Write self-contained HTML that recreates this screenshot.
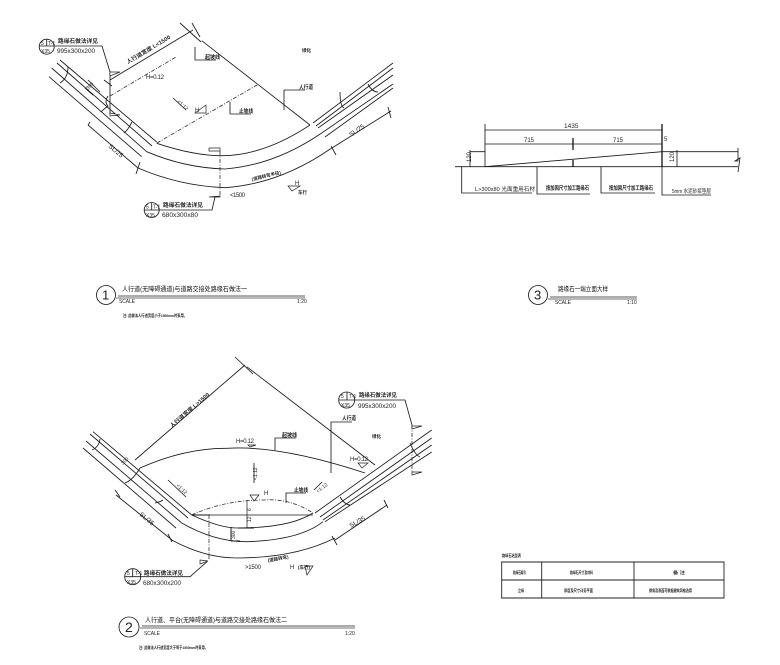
<!DOCTYPE html>
<html><head><meta charset="utf-8"><style>
html,body{margin:0;padding:0;background:#fff;width:780px;height:665px;overflow:hidden}
svg{display:block;filter:blur(.25px)}
text{font-family:"Liberation Sans","Noto Sans CJK SC",sans-serif;fill:#222;font-size:5px}
.z{font-size:5.5px;font-weight:700}
.r{font-size:6.5px;font-weight:400;fill:#111}
.l{fill:none;stroke:#1a1a1a;stroke-width:.85}
.d{fill:none;stroke:#222;stroke-width:.75;stroke-dasharray:4 1.5 1 1.5}
.t{fill:none;stroke:#111;stroke-width:1.3}
.f{fill:#fff;stroke:#222;stroke-width:.7}
</style></head><body>
<svg width="780" height="665" viewBox="0 0 780 665" xmlns="http://www.w3.org/2000/svg">
<!-- Diagram 1 -->
<g class="l">
<path d="M60 60L156.700 142M57 63L152 146M51.700 68L146.700 151.700M49 76.700L141.700 156.700"/>
<path d="M313 123L393 63M316 126L393 68M318 128L393 75M321.700 133L393 84M325 137L393 88"/>
<path d="M156.700 143.300Q195 156 223 155.700Q265 155 310 125"/>
<path d="M146.700 151.700Q185 168 225 169Q275 165 321.700 133"/>
<path d="M138 168Q180 186 225 187.700Q280 184 331.700 148"/>
<path d="M201.700 40.700L310 125M110 80L193 30M180 23L201 42M192 23L200 37"/>
<path d="M68 67Q68 78 60 83M108 96Q104 102 108 106Q105 108 101 112M132 122Q128 130 124 133M368 84Q372 92 378 92M340 92Q340 106 344 108"/>
<path d="M104 80L112 86M88 80L100 92M85 88L93 95"/>
<path d="M88 125L138 168M88 125L90 122M138 168L136 174M140 162L136 174"/>
<path d="M332 148L391 111M331 146L336 155M388 107L391 118"/>
<path d="M195 47V60H216M284 90V110M284 90H305M230 102V114H251M110 71V115"/>
<path d="M54 46H102L110 72M158 210H212L215 197"/>
</g>
<path class="d" d="M110 96L176 57"/>
<path class="d" d="M157 143L257 85"/>
<path class="d" d="M220 151V197"/>
<path class="l" d="M173 98L186 110"/>
<path class="f" d="M110 72L120 72L110 76ZM110 113L120 115L110 116Z"/>
<path class="f" d="M195 113H206L206 105L195 113ZM288 186H300L292 191ZM209 148H220V151H209ZM209 197H220V196Z"/>
<circle class="l" cx="46.700" cy="46.700" r="7.500"/><path class="l" d="M39 46H54M46.700 39V46"/>
<circle class="l" cx="151.700" cy="210" r="7.500"/><path class="l" d="M144 210H159M151.700 203V210"/>
<text x="41" y="45">5</text><text x="48" y="45">T-1</text><text x="41" y="53">X35</text>
<text x="146" y="208.500">5</text><text x="153" y="208.500">T-1</text><text x="146" y="217">X35</text>
<text class="z" x="58" y="43" textLength="40" lengthAdjust="spacingAndGlyphs">路缘石做法详见</text>
<text x="57" y="53" textLength="38" lengthAdjust="spacingAndGlyphs" style="font-size:6px">995x300x200</text>
<text class="z" x="163" y="207" textLength="40" lengthAdjust="spacingAndGlyphs">路缘石做法详见</text>
<text x="162" y="217" textLength="36" lengthAdjust="spacingAndGlyphs" style="font-size:6px">680x300x80</text>
<text transform="translate(128 64) rotate(-31)" textLength="50" lengthAdjust="spacingAndGlyphs" class="z">人行道宽度 L&lt;1500</text>
<text x="146" y="79" style="font-size:6px" textLength="18">H=0.12</text>
<text class="z" x="205" y="59" textLength="15" lengthAdjust="spacingAndGlyphs">起坡线</text>
<text class="z" x="239" y="113" textLength="14" lengthAdjust="spacingAndGlyphs">止坡线</text>
<text class="z" x="299" y="89" textLength="14" lengthAdjust="spacingAndGlyphs">人行道</text>
<text class="z" x="302" y="52" style="font-size:4.500px">绿化</text>
<text class="z" x="298" y="194" style="font-size:4.500px">车行</text>
<text x="195" y="112" style="font-size:6px">H</text><text x="295" y="185" style="font-size:6px">H</text>
<text x="230" y="197" style="font-size:6px" textLength="15">&lt;1500</text>
<text class="z" x="252" y="181" transform="rotate(-14 252 181)" style="font-size:4.500px">(道路转弯半径)</text>
<text x="177" y="102" transform="rotate(42 177 102)">&lt;1:12</text>
<text x="108" y="147" transform="rotate(40 108 147)" style="font-size:6.500px">SL/25</text>
<text x="351" y="137" transform="rotate(-35 351 137)" style="font-size:6.500px">SL/25</text>
<text x="88" y="90" transform="rotate(-45 88 90)">300</text>

<!-- Diagram 3 -->
<g class="l">
<path d="M485 130H662M485 144H662M470 151.700H485M662 151.700H738M455 166.700H738M470 150V167M677 150V167M485 124V167"/>
<path d="M485 166.700L662 151.700" style="stroke-width:.9"/>
<path d="M461.700 166.700V193H532M537 166.700V194H590M601 166.700V193H655M662 166.700V195H711"/>
<path d="M738 148V161L735 161L740 158L738 172"/>
</g>
<path class="t" d="M662 124V167M573 138V150M573 160V167"/>
<text x="564" y="128" style="font-size:6.500px">1435</text><text x="524" y="142" style="font-size:6px">715</text><text x="613" y="142" style="font-size:6px">715</text><text x="664" y="141" style="font-size:6px">5</text>
<text x="471" y="162" transform="rotate(-90 471 162)" style="font-size:6px">120</text><text x="674" y="162" transform="rotate(-90 674 162)" style="font-size:6px">120</text>
<text x="475" y="191" textLength="60" lengthAdjust="spacingAndGlyphs" style="font-size:5.500px">L&gt;300x80 光面重用石材</text>
<text class="z" x="546" y="190" textLength="43" lengthAdjust="spacingAndGlyphs">按加固尺寸加工路缘石</text>
<text class="z" x="609" y="190" textLength="44" lengthAdjust="spacingAndGlyphs">按加固尺寸加工路缘石</text>
<text x="672" y="193" textLength="39" lengthAdjust="spacingAndGlyphs" style="font-size:5.500px">5mm 水泥砂浆垫层</text>

<!-- Diagram 2 -->
<g class="l">
<path d="M93 431.700L191.700 515M90 434L188 518M86 441L181.700 523M83 448L176 528"/>
<path d="M315 513L431.700 430M320 517L431.700 438M323 520L431.700 445M325 521.700L431.700 452"/>
<path d="M140 468Q185 448 227 448.300Q280 445 365 473"/>
<path d="M191.700 515Q220 528 237 528Q290 528 313 513"/>
<path d="M181.700 523Q215 542 247 541.700Q300 540 323 521.700"/>
<path d="M171.700 540Q205 558 236.700 558Q295 558 335 538"/>
<path d="M135 460L245 365M235 357L253 374M246.700 366.700L375 465"/>
<path d="M192 515H313M247 500V528" style="stroke-width:.7"/>
<path d="M100 439Q99 447 92 450M140 468Q133 480 125 483M163 500Q160 502 155 503M410 443Q415 455 420 457M340 497Q345 505 350 505"/>
<path d="M116 495L172 540M115 490L120 497M168 534L172 542"/>
<path d="M335 540L387 505M332 536L337 545M384 500L388 508"/>
<path d="M275 450V438H296M331 473V422H352M286 503V493H306"/>
<path d="M355 400H405L412 425M140 576.700H190L207 561.700"/>
<path d="M168 480L186 497M254 463V483M322 482L314 490"/>
</g>
<path class="d" d="M191.700 515Q225 500 263 500Q290 498 313 513"/>
<path class="d" d="M209 515V560"/>
<path class="d" d="M412 425V473"/>
<path class="t" d="M192 515H210M238 528H254M231 541H240M231 527V541" style="stroke-width:.9"/>
<path class="f" d="M412 426H422L412 429ZM412 472H422L412 475ZM200 560L208 561L200 564ZM250 495H259L254 501ZM358 463H368L362 468ZM248 445H256L250 447ZM305 566H313L307 575Z"/>
<circle class="l" cx="346.700" cy="400" r="8"/><path class="l" d="M339 400H355M347 392V400"/>
<circle class="l" cx="132.700" cy="576.700" r="8"/><path class="l" d="M125 576.700H141M132.700 569V576.700"/>
<text x="341" y="398">5</text><text x="349" y="398">T-1</text><text x="341" y="407">X35</text>
<text x="127" y="575">5</text><text x="135" y="575">T-1</text><text x="127" y="584">X35</text>
<text class="z" x="359" y="397" textLength="38" lengthAdjust="spacingAndGlyphs">路缘石做法详见</text>
<text x="358" y="408" textLength="38" lengthAdjust="spacingAndGlyphs" style="font-size:6px">995x300x200</text>
<text class="z" x="144" y="575" textLength="39" lengthAdjust="spacingAndGlyphs">路缘石做法详见</text>
<text x="143" y="585" textLength="38" lengthAdjust="spacingAndGlyphs" style="font-size:6px">680x300x200</text>
<text transform="translate(172 428) rotate(-41)" textLength="50" lengthAdjust="spacingAndGlyphs" class="z">人行道宽度 L&gt;1500</text>
<text x="236" y="443" style="font-size:6px" textLength="18">H=0.12</text><text x="350" y="461" style="font-size:6px" textLength="18">H=0.12</text>
<text class="z" x="282" y="437" textLength="15" lengthAdjust="spacingAndGlyphs">起坡线</text>
<text class="z" x="294" y="492" textLength="14" lengthAdjust="spacingAndGlyphs">止坡线</text>
<text class="z" x="342" y="420" textLength="14" lengthAdjust="spacingAndGlyphs">人行道</text>
<text class="z" x="372" y="438" style="font-size:4.500px">绿化</text>
<text x="264" y="495" style="font-size:6px">H</text>
<text x="290" y="569" style="font-size:6px">H</text><text class="z" x="298" y="569" style="font-size:4.500px">(车行)</text>
<text x="245" y="569" style="font-size:6px" textLength="16">&gt;1500</text>
<text class="z" x="268" y="562" transform="rotate(-10 268 562)" style="font-size:4.500px">(道路转弯)</text>
<text x="257" y="480" transform="rotate(-90 257 480)">&lt;1:12</text>
<text x="176" y="486" transform="rotate(42 176 486)">&lt;1:12</text>
<text x="318" y="493" transform="rotate(-38 318 493)">&lt;1:12</text>
<text x="139" y="515" transform="rotate(40 139 515)" style="font-size:6.500px">SL/35</text>
<text x="351" y="528" transform="rotate(-30 351 528)" style="font-size:6.500px">SL/35</text>
<text x="235" y="539" transform="rotate(-90 235 539)">300</text>
<text x="123" y="465" transform="rotate(-45 123 465)">300</text>
<text x="251" y="511" transform="rotate(-90 251 511)">6</text><text x="251" y="522" transform="rotate(-90 251 522)">12</text>

<!-- Titles -->
<circle class="l" cx="106" cy="295" r="9.500"/>
<text x="102" y="299.500" style="font-size:13px">1</text>
<path d="M118 296H305" stroke="#222" stroke-width=".8"/><path d="M116 298H305" stroke="#444" stroke-width=".8"/>
<text x="122" y="291" class="r" textLength="125" lengthAdjust="spacingAndGlyphs">人行道(无障碍通道)与道路交接处路缘石做法一</text>
<text x="119" y="303" textLength="16">SCALE</text><text x="297" y="303">1:20</text>
<text class="z" x="123" y="317" style="font-size:4px" textLength="64" lengthAdjust="spacingAndGlyphs">注: 此做法人行道宽度小于1500mm时采用。</text>

<circle class="l" cx="129" cy="627" r="10"/>
<text x="125" y="632" style="font-size:14px">2</text>
<path d="M142 626H355" stroke="#222" stroke-width=".8"/><path d="M140 628H355" stroke="#444" stroke-width=".8"/>
<text x="145" y="622" class="r" textLength="142" lengthAdjust="spacingAndGlyphs">人行道、平台(无障碍通道)与道路交接处路缘石做法二</text>
<text x="144" y="635" textLength="16">SCALE</text><text x="345" y="635">1:20</text>
<text class="z" x="139" y="649" style="font-size:4px" textLength="69" lengthAdjust="spacingAndGlyphs">注: 此做法人行道宽度大于等于1500mm时采用。</text>

<circle class="l" cx="538" cy="295" r="9.500"/>
<text x="534" y="299.500" style="font-size:13px">3</text>
<path d="M550 297H637" stroke="#222" stroke-width=".8"/><path d="M548 299H637" stroke="#444" stroke-width=".8"/>
<text x="558" y="291" class="r" textLength="50" lengthAdjust="spacingAndGlyphs">路缘石一端立面大样</text>
<text x="555" y="304" textLength="16">SCALE</text><text x="627" y="304">1:10</text>

<!-- Table -->
<path d="M501.700 562H724V598H501.700ZM501.700 580H724M541.700 562V598M634 562V598" fill="none" stroke="#222" stroke-width=".9"/>
<text class="z" x="502" y="557" style="font-size:4px" textLength="19" lengthAdjust="spacingAndGlyphs">路缘石选型表</text>
<text class="z" x="513" y="574" style="font-size:4px" textLength="13" lengthAdjust="spacingAndGlyphs">路缘石编号</text>
<text class="z" x="570" y="574" style="font-size:4px" textLength="23" lengthAdjust="spacingAndGlyphs">路缘石尺寸及材料</text>
<text class="z" x="673" y="574" style="font-size:4px" textLength="12" lengthAdjust="spacingAndGlyphs">备 注</text>
<text class="z" x="518" y="592" style="font-size:4px" textLength="6" lengthAdjust="spacingAndGlyphs">立缘</text>
<text class="z" x="564" y="592" style="font-size:4px" textLength="29" lengthAdjust="spacingAndGlyphs">厚度及尺寸详见平面</text>
<text class="z" x="649" y="592" style="font-size:4px" textLength="43" lengthAdjust="spacingAndGlyphs">倒角及表面可根据建筑风格选用</text>
</svg>
</body></html>
